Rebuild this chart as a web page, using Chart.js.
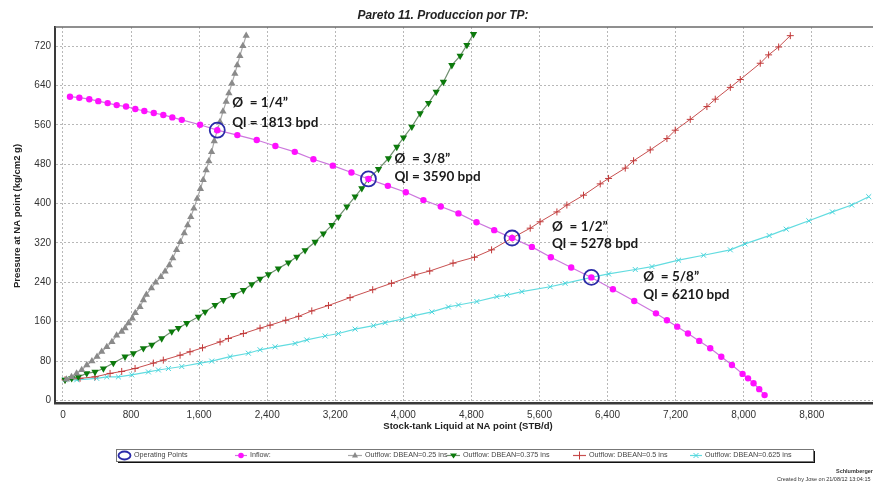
<!DOCTYPE html>
<html><head><meta charset="utf-8">
<script src="https://cdn.jsdelivr.net/npm/chart.js@4.4.0/dist/chart.umd.min.js"></script>
<style>html,body{margin:0;padding:0;background:#fff;overflow:hidden}#wrap{position:relative;width:873px;height:483px}</style>
</head><body><div id="wrap"><canvas id="c"></canvas></div>
<script>
// ---------- data ----------
const chartTitle = 'Pareto 11. Produccion por TP:';
const xTitle = 'Stock-tank Liquid at NA point (STB/d)';
const yTitle = 'Pressure at NA point (kg/cm2 g)';
const xTicks = [0, 800, 1600, 2400, 3200, 4000, 4800, 5600, 6400, 7200, 8000, 8800];
const yTicks = [0, 80, 160, 240, 320, 400, 480, 560, 640, 720];
const seriesNames = ['Operating Points', 'Inflow:', 'Outflow: DBEAN=0.25 ins', 'Outflow: DBEAN=0.375 ins', 'Outflow: DBEAN=0.5 ins', 'Outflow: DBEAN=0.625 ins'];

const operatingPoints = [[1813, 549], [3590, 450], [5278, 330], [6210, 250]];
const chokeSizes = ['1/4', '3/8', '1/2', '5/8'];

const inflow = [[82,617],[192,615],[309,612],[415,608],[525,604],[631,600],[741,597],[850,592],[956,588],[1067,584],[1179,580],[1285,575],[1396,570],[1611,560],[1813,549],[2049,539],[2277,529],[2496,517],[2724,505],[2943,490],[3171,477],[3390,463],[3590,450],[3818,436],[4029,423],[4236,407],[4440,394],[4648,380],[4860,362],[5068,346],[5278,330],[5511,312],[5734,291],[5973,270],[6210,250],[6463,226],[6714,202],[6969,177],[7098,163],[7219,150],[7345,136],[7478,121],[7607,106],[7737,89],[7862,72],[7987,54],[8051,45],[8116,35],[8183,23],[8246,11]];

const outflow025 = [[40,43],[100,48],[160,55],[220,62],[280,72],[340,80],[400,89],[455,99],[515,109],[575,119],[630,132],[690,140],[730,147],[770,157],[815,167],[850,178],[905,190],[945,204],[980,215],[1040,228],[1090,240],[1150,251],[1200,262],[1250,275],[1290,289],[1335,306],[1380,322],[1425,340],[1465,356],[1502,373],[1538,390],[1577,410],[1615,430],[1648,448],[1683,468],[1714,486],[1746,505],[1778,527],[1813,549],[1845,566],[1880,587],[1918,607],[1950,624],[1985,644],[2020,664],[2048,681],[2079,700],[2114,720],[2153,741]];

const outflow0375 = [[24,42],[102,45],[180,48],[279,55],[376,58],[475,65],[592,76],[729,89],[827,96],[945,106],[1043,113],[1160,126],[1278,140],[1356,147],[1454,157],[1591,170],[1670,180],[1787,194],[1885,204],[2003,214],[2120,224],[2218,236],[2316,247],[2414,256],[2531,268],[2649,280],[2747,292],[2845,305],[2963,322],[3060,339],[3160,356],[3237,373],[3336,394],[3433,414],[3512,431],[3590,450],[3708,470],[3825,492],[3923,515],[4002,534],[4100,556],[4198,583],[4296,604],[4386,627],[4471,647],[4570,681],[4668,700],[4747,722],[4825,744]];

const outflow05 = [[24,42],[200,45],[376,48],[553,55],[690,59],[847,65],[1062,76],[1179,82],[1376,92],[1493,99],[1640,107],[1846,119],[1944,126],[2120,136],[2316,147],[2434,153],[2618,163],[2770,171],[2924,182],[3120,193],[3374,209],[3640,225],[3860,238],[4135,255],[4310,263],[4584,279],[4836,291],[5037,306],[5278,330],[5491,350],[5608,363],[5805,383],[5922,397],[6118,417],[6314,440],[6412,451],[6608,472],[6706,487],[6902,509],[7098,532],[7196,549],[7372,571],[7568,597],[7666,612],[7843,636],[7960,652],[8195,685],[8293,702],[8411,718],[8548,741]];

const outflow0625 = [[24,42],[161,42],[396,45],[514,48],[651,48],[808,52],[1004,58],[1121,62],[1239,65],[1396,69],[1611,76],[1748,80],[1964,89],[2179,96],[2316,103],[2493,109],[2728,116],[2865,123],[3081,131],[3237,136],[3433,145],[3649,152],[3786,158],[3982,165],[4119,172],[4335,180],[4530,190],[4648,194],[4864,201],[5099,211],[5217,214],[5393,221],[5726,231],[5902,238],[6210,250],[6412,257],[6726,266],[6922,272],[7235,285],[7529,295],[7843,306],[8015,318],[8300,335],[8500,348],[8766,365],[9043,383],[9270,397],[9470,414]];

// ---------- styling ----------
const toXY = a => a.map(p => ({x: p[0], y: p[1]}));
const labelOffsets = [[15,-28,-8],[26,-20,-2],[40,-11,6],[52,-1,17]];
const C = {op:'#2a2aa8', inLine:'#cc77dd', inPt:'#ff10ff', gray:'#8a8a8a', grayLine:'#a8a8a8', green:'#0c7a0c', greenLine:'#6f8f6f', red:'#c23a3a', redLine:'#c85050', cyan:'#48d4dc', cyanLine:'#62dce0'};

const datasets = [
  {label: seriesNames[0], data: toXY(operatingPoints), showLine:false, pointStyle:'circle', pointRadius:7.5, pointBorderWidth:1.8, pointBackgroundColor:'rgba(0,0,0,0)', pointBorderColor:C.op, borderColor:C.op},
  {label: seriesNames[1], data: toXY(inflow), borderColor:C.inLine, borderWidth:1.2, pointStyle:'circle', pointRadius:3.2, pointBorderWidth:0, pointBackgroundColor:C.inPt},
  {label: seriesNames[2], data: toXY(outflow025), borderColor:C.grayLine, borderWidth:1.2, pointStyle:'triangle', pointRadius:4.2, pointBorderWidth:0, pointBackgroundColor:C.gray},
  {label: seriesNames[3], data: toXY(outflow0375), borderColor:C.greenLine, borderWidth:1.2, pointStyle:'triangle', pointRotation:180, pointRadius:4.2, pointBorderWidth:0, pointBackgroundColor:C.green},
  {label: seriesNames[4], data: toXY(outflow05), borderColor:C.redLine, borderWidth:1, pointStyle:'cross', pointRadius:3.5, pointBorderWidth:1, pointBorderColor:C.red, pointBackgroundColor:C.red},
  {label: seriesNames[5], data: toXY(outflow0625), borderColor:C.cyanLine, borderWidth:1.2, pointStyle:'crossRot', pointRadius:3.5, pointBorderWidth:1, pointBorderColor:C.cyan, pointBackgroundColor:C.cyan}
];
datasets.forEach(d => { d.tension = 0; d.fill = false; });

const decor = {
  id: 'decor',
  beforeDraw(chart) {
    const ctx = chart.ctx;
    ctx.save();
    ctx.fillStyle = '#fff';
    ctx.fillRect(0, 0, chart.width, chart.height);
    ctx.restore();
  },
  afterDatasetsDraw(chart) {
    const ctx = chart.ctx, xs = chart.scales.x, ys = chart.scales.y, a = chart.chartArea;
    ctx.save();
    // top border
    ctx.strokeStyle = '#6a6a6a'; ctx.lineWidth = 1.5;
    ctx.beginPath(); ctx.moveTo(a.left, a.top); ctx.lineTo(a.right, a.top); ctx.stroke();
    // operating point labels
    ctx.fillStyle = '#1a1a1a';
    ctx.font = 'bold 13.5px Lato, "Open Sans", sans-serif';
    ctx.textBaseline = 'middle'; ctx.textAlign = 'left';
    operatingPoints.forEach((p, i) => {
      const px = xs.getPixelForValue(p[0]), py = ys.getPixelForValue(p[1]);
      const o = labelOffsets[i];
      ctx.fillText('\u00D8  = ' + chokeSizes[i] + '\u201D', px + o[0], py + o[1]);
      ctx.fillText('Ql = ' + p[0] + ' bpd', px + o[0], py + o[2]);
    });
    ctx.restore();
  },
  afterDraw(chart) {
    const ctx = chart.ctx;
    ctx.save();
    // title
    ctx.fillStyle = '#222';
    ctx.font = 'italic bold 12px "Liberation Sans", Arial, sans-serif';
    ctx.textAlign = 'center'; ctx.textBaseline = 'middle';
    ctx.fillText(chartTitle, 443, 16);
    // axis titles
    ctx.font = 'bold 9.5px "Liberation Sans", Arial, sans-serif';
    ctx.fillStyle = '#222';
    ctx.fillText(xTitle, 468, 426);
    ctx.save();
    ctx.translate(17, 216); ctx.rotate(-Math.PI / 2);
    ctx.fillText(yTitle, 0, 0);
    ctx.restore();
    // legend box
    const L = {x:116, y:449, w:697, h:12};
    ctx.fillStyle = '#111'; ctx.fillRect(L.x + 2, L.y + 2, L.w, L.h);
    ctx.fillStyle = '#fff'; ctx.fillRect(L.x, L.y, L.w, L.h);
    ctx.strokeStyle = '#777'; ctx.lineWidth = 1; ctx.strokeRect(L.x + 0.5, L.y + 0.5, L.w, L.h);
    const cy = L.y + 6.5;
    ctx.font = '7.2px "Liberation Sans", Arial, sans-serif';
    ctx.textAlign = 'left'; ctx.textBaseline = 'middle';
    // op ellipse
    ctx.strokeStyle = C.op; ctx.lineWidth = 1.8;
    ctx.beginPath(); ctx.ellipse(124.5, cy, 6, 4, 0, 0, Math.PI * 2); ctx.stroke();
    ctx.fillStyle = '#444'; ctx.fillText(seriesNames[0], 134, cy);
    const items = [
      {x0:235, x1:247, line:C.inLine, text:seriesNames[1], tx:250, mark:'circle', c:C.inPt},
      {x0:348, x1:362, line:C.grayLine, text:seriesNames[2], tx:365, mark:'tri', c:C.gray},
      {x0:447, x1:460, line:C.greenLine, text:seriesNames[3], tx:463, mark:'tridown', c:C.green},
      {x0:573, x1:586, line:C.redLine, text:seriesNames[4], tx:589, mark:'plus', c:C.red},
      {x0:690, x1:702, line:C.cyanLine, text:seriesNames[5], tx:705, mark:'x', c:C.cyan}
    ];
    items.forEach(it => {
      ctx.strokeStyle = it.line; ctx.lineWidth = 1.2;
      ctx.beginPath(); ctx.moveTo(it.x0, cy); ctx.lineTo(it.x1, cy); ctx.stroke();
      const mx = (it.x0 + it.x1) / 2;
      ctx.fillStyle = it.c; ctx.strokeStyle = it.c; ctx.lineWidth = 1;
      ctx.beginPath();
      if (it.mark === 'circle') { ctx.arc(mx, cy, 2.8, 0, Math.PI * 2); ctx.fill(); }
      else if (it.mark === 'tri') { ctx.moveTo(mx, cy - 3.5); ctx.lineTo(mx + 3, cy + 2); ctx.lineTo(mx - 3, cy + 2); ctx.closePath(); ctx.fill(); }
      else if (it.mark === 'tridown') { ctx.moveTo(mx, cy + 3); ctx.lineTo(mx + 3.5, cy - 2); ctx.lineTo(mx - 3.5, cy - 2); ctx.closePath(); ctx.fill(); }
      else if (it.mark === 'plus') { ctx.moveTo(mx, cy - 4); ctx.lineTo(mx, cy + 4); ctx.stroke(); }
      else if (it.mark === 'x') { ctx.moveTo(mx - 2.5, cy - 2.5); ctx.lineTo(mx + 2.5, cy + 2.5); ctx.moveTo(mx + 2.5, cy - 2.5); ctx.lineTo(mx - 2.5, cy + 2.5); ctx.stroke(); }
      ctx.fillStyle = '#444'; ctx.fillText(it.text, it.tx, cy);
    });
    // footer
    ctx.fillStyle = '#333';
    ctx.font = 'bold 5.5px "Liberation Sans", Arial, sans-serif';
    ctx.fillText('Schlumberger', 836, 471);
    ctx.font = '5.5px "Liberation Sans", Arial, sans-serif';
    ctx.fillText('Created by Jose on 21/08/12 13:04:15', 777, 479);
    ctx.restore();
  }
};

new Chart(document.getElementById('c'), {
  type: 'line',
  data: { datasets },
  options: {
    responsive: true, maintainAspectRatio: false, animation: false,
    layout: { autoPadding: false, padding: { top: 27, left: 0, right: 0, bottom: 0 } },
    plugins: { legend: { display: false }, title: { display: false }, tooltip: { enabled: false } },
    scales: {
      x: {
        type: 'linear', min: -94, max: 9520,
        afterBuildTicks: s => { s.ticks = xTicks.map(v => ({value: v})); },
        afterFit: s => { s.height = 80; s.paddingLeft = 0; s.paddingRight = 0; },
        grid: { color: '#b8b8b8', lineWidth: 1, drawTicks: false },
        border: { display: true, color: '#3a3a3a', width: 2.5, dash: [2, 2] },
        ticks: { padding: 6, maxRotation: 0, autoSkip: false, color: '#333', font: { family: '"Liberation Sans", Arial, sans-serif', size: 10 }, callback: v => v.toLocaleString('en-US') }
      },
      y: {
        type: 'linear', min: -5.08, max: 758.6,
        afterBuildTicks: s => { s.ticks = yTicks.map(v => ({value: v})); },
        afterFit: s => { s.width = 55; s.paddingTop = 0; s.paddingBottom = 0; },
        grid: { color: '#b8b8b8', lineWidth: 1, drawTicks: false },
        border: { display: true, color: '#3a3a3a', width: 2, dash: [2, 2] },
        ticks: { padding: 4, autoSkip: false, color: '#333', font: { family: '"Liberation Sans", Arial, sans-serif', size: 10 } }
      }
    }
  },
  plugins: [decor]
});
</script>
</body></html>
